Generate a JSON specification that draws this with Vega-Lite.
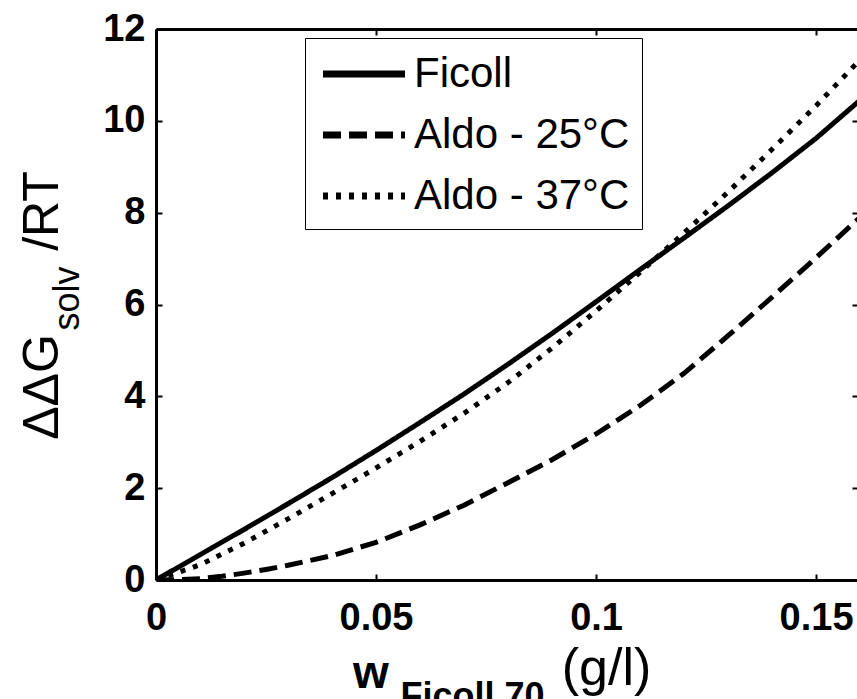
{
  "$schema": "https://vega.github.io/schema/vega-lite/v6.json",
  "width": 701,
  "height": 551,
  "autosize": {"type": "none"},
  "padding": {"left": 156, "top": 29, "right": 0, "bottom": 119},
  "background": "white",
  "config": {"view": {"stroke": null}, "font": "Liberation Sans"},
  "title": {
    "text": "w",
    "orient": "top",
    "anchor": "start",
    "frame": "group",
    "offset": 0,
    "dx": 197,
    "dy": 724,
    "baseline": "alphabetic",
    "font": "Liberation Sans",
    "fontSize": 46,
    "fontWeight": "bold",
    "color": "black"
  },
  "data": {
    "values": [
      {"x": 0, "y": 0, "s": "Ficoll"},
      {"x": 0.01, "y": 0.55, "s": "Ficoll"},
      {"x": 0.02, "y": 1.1, "s": "Ficoll"},
      {"x": 0.03, "y": 1.66, "s": "Ficoll"},
      {"x": 0.04, "y": 2.23, "s": "Ficoll"},
      {"x": 0.05, "y": 2.82, "s": "Ficoll"},
      {"x": 0.06, "y": 3.43, "s": "Ficoll"},
      {"x": 0.07, "y": 4.05, "s": "Ficoll"},
      {"x": 0.08, "y": 4.7, "s": "Ficoll"},
      {"x": 0.09, "y": 5.37, "s": "Ficoll"},
      {"x": 0.1, "y": 6.06, "s": "Ficoll"},
      {"x": 0.11, "y": 6.76, "s": "Ficoll"},
      {"x": 0.12, "y": 7.45, "s": "Ficoll"},
      {"x": 0.13, "y": 8.15, "s": "Ficoll"},
      {"x": 0.14, "y": 8.87, "s": "Ficoll"},
      {"x": 0.15, "y": 9.62, "s": "Ficoll"},
      {"x": 0.16, "y": 10.45, "s": "Ficoll"},
      {"x": 0, "y": 0, "s": "Aldo - 25°C"},
      {"x": 0.005, "y": 0.008, "s": "Aldo - 25°C"},
      {"x": 0.01, "y": 0.03, "s": "Aldo - 25°C"},
      {"x": 0.015, "y": 0.08, "s": "Aldo - 25°C"},
      {"x": 0.02, "y": 0.15, "s": "Aldo - 25°C"},
      {"x": 0.025, "y": 0.23, "s": "Aldo - 25°C"},
      {"x": 0.03, "y": 0.32, "s": "Aldo - 25°C"},
      {"x": 0.04, "y": 0.53, "s": "Aldo - 25°C"},
      {"x": 0.05, "y": 0.82, "s": "Aldo - 25°C"},
      {"x": 0.06, "y": 1.2, "s": "Aldo - 25°C"},
      {"x": 0.07, "y": 1.63, "s": "Aldo - 25°C"},
      {"x": 0.08, "y": 2.12, "s": "Aldo - 25°C"},
      {"x": 0.09, "y": 2.62, "s": "Aldo - 25°C"},
      {"x": 0.1, "y": 3.18, "s": "Aldo - 25°C"},
      {"x": 0.11, "y": 3.8, "s": "Aldo - 25°C"},
      {"x": 0.12, "y": 4.5, "s": "Aldo - 25°C"},
      {"x": 0.13, "y": 5.32, "s": "Aldo - 25°C"},
      {"x": 0.14, "y": 6.16, "s": "Aldo - 25°C"},
      {"x": 0.15, "y": 7.02, "s": "Aldo - 25°C"},
      {"x": 0.16, "y": 7.9, "s": "Aldo - 25°C"},
      {"x": 0, "y": 0, "s": "Aldo - 37°C"},
      {"x": 0.01, "y": 0.33, "s": "Aldo - 37°C"},
      {"x": 0.02, "y": 0.8, "s": "Aldo - 37°C"},
      {"x": 0.03, "y": 1.33, "s": "Aldo - 37°C"},
      {"x": 0.04, "y": 1.88, "s": "Aldo - 37°C"},
      {"x": 0.05, "y": 2.44, "s": "Aldo - 37°C"},
      {"x": 0.06, "y": 3.02, "s": "Aldo - 37°C"},
      {"x": 0.07, "y": 3.63, "s": "Aldo - 37°C"},
      {"x": 0.08, "y": 4.3, "s": "Aldo - 37°C"},
      {"x": 0.09, "y": 5.05, "s": "Aldo - 37°C"},
      {"x": 0.1, "y": 5.86, "s": "Aldo - 37°C"},
      {"x": 0.11, "y": 6.7, "s": "Aldo - 37°C"},
      {"x": 0.12, "y": 7.56, "s": "Aldo - 37°C"},
      {"x": 0.13, "y": 8.45, "s": "Aldo - 37°C"},
      {"x": 0.14, "y": 9.38, "s": "Aldo - 37°C"},
      {"x": 0.15, "y": 10.33, "s": "Aldo - 37°C"},
      {"x": 0.16, "y": 11.33, "s": "Aldo - 37°C"}
    ]
  },
  "layer": [
    {
      "mark": {"type": "line", "clip": true, "color": "black", "strokeWidth": 5, "strokeCap": "butt"},
      "encoding": {
        "x": {
          "field": "x", "type": "quantitative",
          "scale": {"domain": [0, 0.1593], "nice": false, "zero": false},
          "axis": {
            "orient": "bottom",
            "values": [0, 0.05, 0.1, 0.15],
            "format": "~g",
            "grid": false,
            "labelFont": "Liberation Sans", "labelFontSize": 38, "labelFontWeight": "bold", "labelColor": "black",
            "labelPadding": 25, "labelFlush": false, "labelOverlap": false,
            "tickSize": -6, "tickWidth": 2, "tickColor": "black",
            "domainColor": "black", "domainWidth": 3,
            "title": "(g/l)",
            "titleFont": "Liberation Sans", "titleFontSize": 52, "titleFontWeight": "normal", "titleColor": "black",
            "titleX": 450, "titleY": 104, "titleBaseline": "alphabetic", "titleAlign": "center", "titleAngle": 0
          }
        },
        "y": {
          "field": "y", "type": "quantitative",
          "scale": {"domain": [0, 12], "nice": false},
          "axis": {
            "orient": "left",
            "values": [0, 2, 4, 6, 8, 10, 12],
            "grid": false,
            "labelFont": "Liberation Sans", "labelFontSize": 38, "labelFontWeight": "bold", "labelColor": "black",
            "labelPadding": 17, "labelFlush": false, "labelOverlap": false,
            "tickSize": -6, "tickWidth": 2, "tickColor": "black",
            "domainColor": "black", "domainWidth": 3,
            "title": "ΔΔG\u00a0\u00a0\u00a0\u00a0\u00a0\u00a0/RT",
            "titleFont": "Liberation Sans", "titleFontSize": 50, "titleFontWeight": "normal", "titleColor": "black",
            "titleX": -99, "titleY": 276, "titleBaseline": "alphabetic", "titleAlign": "center", "titleAngle": -90
          }
        },
        "strokeDash": {
          "field": "s", "type": "nominal",
          "scale": {"domain": ["Ficoll", "Aldo - 25°C", "Aldo - 37°C"], "range": [[1, 0], [18, 8], [5, 8]]},
          "legend": {
            "orient": "none", "legendX": 149, "legendY": 9,
            "title": null,
            "strokeColor": "black", "fillColor": "white", "padding": 12,
            "symbolType": "M-2,0H2", "symbolSize": 1681, "symbolStrokeWidth": 7, "symbolStrokeColor": "black",
            "symbolOffset": 23,
            "labelFont": "Liberation Sans", "labelFontSize": 42, "labelColor": "black", "labelOffset": 26,
            "labelLimit": 500, "rowPadding": 16
          }
        }
      }
    },
    {
      "mark": {"type": "line", "clip": true, "strokeOpacity": 0, "color": "black"},
      "encoding": {
        "detail": {"field": "s"},
        "x": {
          "field": "x", "type": "quantitative",
          "axis": {
            "orient": "top",
            "values": [0, 0.05, 0.1, 0.15],
            "grid": false, "labels": false,
            "tickSize": -6, "tickWidth": 2, "tickColor": "black",
            "domainColor": "black", "domainWidth": 3,
            "title": "Ficoll 70",
            "titleFont": "Liberation Sans", "titleFontSize": 36, "titleFontWeight": "bold", "titleColor": "black",
            "titleX": 316, "titleY": 678, "titleBaseline": "alphabetic", "titleAlign": "center", "titleAngle": 0
          }
        },
        "y": {
          "field": "y", "type": "quantitative",
          "axis": {
            "orient": "right",
            "values": [0, 2, 4, 6, 8, 10, 12],
            "grid": false, "labels": false, "domain": false,
            "tickSize": -5, "tickWidth": 2, "tickColor": "black",
            "title": "solv",
            "titleFont": "Liberation Sans", "titleFontSize": 36, "titleFontWeight": "normal", "titleColor": "black",
            "titleX": -779, "titleY": 269, "titleBaseline": "alphabetic", "titleAlign": "center", "titleAngle": -90
          }
        }
      }
    }
  ],
  "resolve": {"axis": {"x": "independent", "y": "independent"}}
}
